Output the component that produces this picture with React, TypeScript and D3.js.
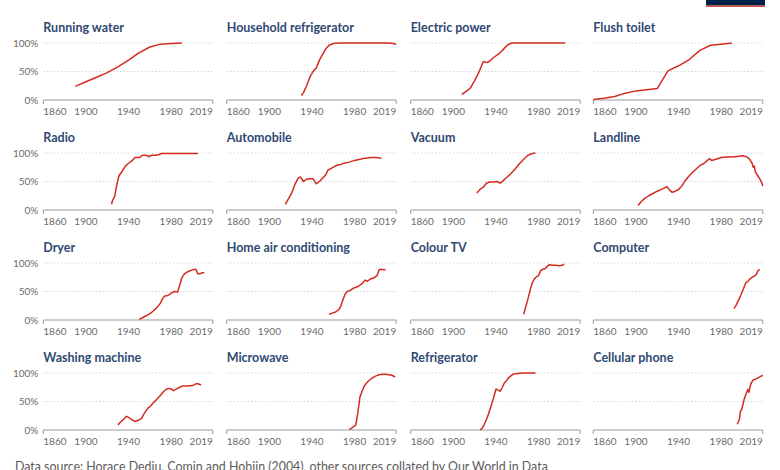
import { useEffect, useRef } from "react";
import * as d3 from "d3";

type Pt = [number, number];

// Share of US households using each technology (%)
const runningWater: Pt[] = [[1890, 24], [1900, 32], [1910, 40], [1920, 48], [1930, 58], [1940, 70], [1950, 83], [1960, 93], [1970, 98], [1980, 99], [1990, 100]];
const householdFridge: Pt[] = [[1930, 8], [1932, 13], [1935, 25], [1938, 40], [1941, 50], [1944, 56], [1947, 70], [1950, 80], [1953, 90], [1956, 96], [1960, 99], [1965, 100], [1980, 100], [2000, 100], [2012, 100], [2016, 99], [2019, 98]];
const electricPower: Pt[] = [[1908, 10], [1912, 15], [1916, 21], [1920, 34], [1924, 49], [1928, 67], [1932, 66], [1934, 68], [1938, 75], [1942, 80], [1945, 85], [1948, 91], [1951, 97], [1955, 100], [1980, 100], [2005, 100]];
const flushToilet: Pt[] = [[1860, 1], [1870, 3], [1880, 6], [1890, 12], [1900, 16], [1910, 18], [1920, 20], [1930, 51], [1940, 60], [1950, 71], [1960, 87], [1970, 96], [1980, 98], [1990, 100]];
const radio: Pt[] = [[1924, 10], [1925, 17], [1927, 24], [1929, 45], [1931, 60], [1934, 68], [1937, 77], [1940, 82], [1943, 86], [1946, 92], [1950, 92], [1953, 96], [1956, 96], [1959, 94], [1962, 96], [1965, 96], [1968, 97], [1971, 99], [1980, 99], [1990, 99], [2005, 99]];
const automobile: Pt[] = [[1915, 10], [1918, 20], [1921, 30], [1924, 45], [1927, 56], [1929, 58], [1932, 50], [1935, 54], [1938, 55], [1941, 55], [1944, 46], [1947, 50], [1950, 56], [1953, 62], [1955, 70], [1958, 73], [1961, 76], [1964, 79], [1967, 80], [1970, 82], [1975, 84], [1980, 87], [1985, 89], [1990, 91], [1995, 92], [2000, 92], [2005, 91]];
const vacuum: Pt[] = [[1922, 30], [1925, 36], [1928, 40], [1931, 47], [1934, 49], [1938, 49], [1941, 50], [1944, 47], [1947, 52], [1950, 57], [1954, 64], [1958, 72], [1962, 81], [1966, 89], [1970, 96], [1974, 99], [1977, 100]];
const landline: Pt[] = [[1902, 8], [1905, 15], [1908, 20], [1912, 25], [1916, 29], [1920, 33], [1925, 37], [1929, 41], [1932, 34], [1934, 31], [1937, 33], [1940, 36], [1943, 42], [1946, 51], [1949, 58], [1952, 64], [1956, 71], [1960, 78], [1964, 82], [1967, 87], [1969, 90], [1971, 87], [1975, 89], [1980, 92], [1985, 93], [1990, 93], [1995, 94], [2000, 95], [2003, 94], [2005, 92], [2007, 88], [2009, 82], [2010, 75], [2011, 77], [2012, 67], [2014, 61], [2016, 55], [2018, 48], [2019, 42]];
const dryer: Pt[] = [[1950, 1], [1953, 4], [1956, 7], [1959, 10], [1962, 14], [1965, 19], [1968, 25], [1970, 30], [1972, 38], [1974, 42], [1977, 43], [1980, 47], [1983, 50], [1986, 49], [1988, 61], [1990, 74], [1992, 80], [1994, 83], [1997, 86], [2000, 88], [2003, 89], [2005, 81], [2007, 81], [2009, 83], [2011, 83]];
const airConditioning: Pt[] = [[1956, 10], [1959, 12], [1962, 14], [1965, 18], [1967, 24], [1969, 35], [1971, 45], [1973, 50], [1976, 52], [1979, 56], [1981, 57], [1984, 60], [1987, 64], [1990, 70], [1992, 68], [1995, 72], [1998, 74], [2001, 78], [2003, 88], [2005, 89], [2007, 88], [2009, 88]];
const colourTV: Pt[] = [[1966, 10], [1968, 24], [1970, 37], [1972, 52], [1974, 65], [1976, 72], [1978, 76], [1980, 78], [1982, 87], [1984, 89], [1986, 90], [1988, 94], [1990, 97], [1993, 96], [1996, 96], [1999, 95], [2002, 96], [2004, 98]];
const computer: Pt[] = [[1992, 20], [1994, 26], [1996, 34], [1998, 42], [2000, 51], [2002, 60], [2003, 65], [2005, 68], [2007, 72], [2009, 75], [2011, 77], [2013, 80], [2014, 85], [2016, 89]];
const washingMachine: Pt[] = [[1930, 9], [1933, 15], [1936, 20], [1938, 24], [1940, 22], [1943, 18], [1946, 15], [1949, 17], [1952, 20], [1955, 30], [1958, 38], [1961, 43], [1964, 49], [1967, 55], [1970, 61], [1973, 68], [1976, 72], [1978, 73], [1980, 72], [1982, 69], [1985, 72], [1988, 75], [1990, 77], [1995, 77], [2000, 78], [2003, 81], [2005, 81], [2008, 79]];
const microwave: Pt[] = [[1975, 1], [1977, 3], [1979, 6], [1981, 8], [1983, 30], [1985, 58], [1987, 68], [1989, 77], [1991, 82], [1993, 86], [1995, 89], [1997, 92], [2000, 95], [2003, 97], [2006, 98], [2009, 98], [2012, 97], [2015, 96], [2018, 93]];
const refrigerator: Pt[] = [[1925, 0], [1927, 3], [1929, 10], [1931, 18], [1933, 28], [1935, 40], [1937, 52], [1939, 65], [1940, 72], [1942, 70], [1944, 68], [1946, 75], [1948, 83], [1950, 87], [1952, 92], [1954, 95], [1956, 98], [1960, 99], [1965, 100], [1970, 100], [1977, 100]];
const cellularPhone: Pt[] = [[1995, 10], [1996, 14], [1997, 18], [1998, 33], [1999, 35], [2000, 42], [2001, 50], [2002, 57], [2003, 62], [2004, 67], [2005, 71], [2006, 66], [2007, 76], [2008, 82], [2009, 85], [2010, 88], [2011, 88], [2013, 90], [2015, 92], [2017, 94], [2019, 96]];

const titles = [
  "Running water", "Household refrigerator", "Electric power", "Flush toilet",
  "Radio", "Automobile", "Vacuum", "Landline",
  "Dryer", "Home air conditioning", "Colour TV", "Computer",
  "Washing machine", "Microwave", "Refrigerator", "Cellular phone",
];
const series = [
  runningWater, householdFridge, electricPower, flushToilet,
  radio, automobile, vacuum, landline,
  dryer, airConditioning, colourTV, computer,
  washingMachine, microwave, refrigerator, cellularPhone,
];
const yearTicks = [1860, 1900, 1940, 1980, 2019];
const pctTicks = [0, 50, 100];
const source = "Data source: Horace Dediu, Comin and Hobijn (2004), other sources collated by Our World in Data";

function App() {
  const svgRef = useRef<SVGSVGElement>(null);

  useEffect(() => {
    if (!svgRef.current) return;
    const svg = d3.select(svgRef.current);
    svg.selectAll("*").remove();

    const width = 780;
    const height = 470;
    svg.attr("width", width).attr("height", height);

    const font = "Lato, 'Noto Sans', sans-serif";
    const colLeft = [43.3, 226.7, 410.7, 593.3];
    const plotW = 169.5;
    const plotH = 57;
    const rowTop = 43;
    const rowStep = 110;

    // logo box, cut off at the top
    svg.append("rect").attr("x", 706).attr("y", 0).attr("width", 59).attr("height", 5.5).attr("fill", "#002147");
    svg.append("rect").attr("x", 706).attr("y", 5.5).attr("width", 59).attr("height", 1.3).attr("fill", "#ce261e");

    series.forEach((data, i) => {
      const col = i % 4;
      const row = Math.floor(i / 4);
      const g = svg.append("g").attr("transform", `translate(${colLeft[col]},${rowTop + row * rowStep})`);

      const x = d3.scaleLinear().domain([1860, 2019]).range([0, plotW]);
      const y = d3.scaleLinear().domain([0, 100]).range([plotH, 0]);

      // title
      g.append("text")
        .attr("x", 0)
        .attr("y", -11)
        .attr("font-family", font)
        .attr("font-weight", 700)
        .attr("font-size", 12.5)
        .attr("fill", "#2f4a73")
        .text(titles[i]);

      // dotted gridlines
      g.selectAll(".grid")
        .data(pctTicks.filter((d) => d > 0))
        .join("line")
        .attr("x1", 0)
        .attr("x2", plotW)
        .attr("y1", (d) => y(d))
        .attr("y2", (d) => y(d))
        .attr("stroke", "#d6d6d6")
        .attr("stroke-dasharray", "1.5,2");

      // y labels only in first column
      if (col === 0) {
        g.selectAll(".ylab")
          .data(pctTicks)
          .join("text")
          .attr("x", -5)
          .attr("y", (d) => y(d) + 3.5)
          .attr("text-anchor", "end")
          .attr("font-family", font)
          .attr("font-size", 10)
          .attr("fill", "#6b6b6b")
          .text((d) => `${d}%`);
      }

      // x axis: baseline with end ticks
      g.append("line").attr("x1", 0).attr("x2", plotW).attr("y1", plotH).attr("y2", plotH).attr("stroke", "#9a9a9a");
      g.selectAll(".tick")
        .data([1860, 2019])
        .join("line")
        .attr("x1", (d) => x(d))
        .attr("x2", (d) => x(d))
        .attr("y1", plotH)
        .attr("y2", plotH + 4)
        .attr("stroke", "#9a9a9a");

      g.selectAll(".xlab")
        .data(yearTicks)
        .join("text")
        .attr("x", (d) => x(d))
        .attr("y", plotH + 14.5)
        .attr("text-anchor", (d) => (d === 1860 ? "start" : d === 2019 ? "end" : "middle"))
        .attr("font-family", font)
        .attr("font-size", 10)
        .attr("fill", "#6b6b6b")
        .text((d) => d);

      const line = d3
        .line<Pt>()
        .x((d) => x(d[0]))
        .y((d) => y(d[1]));

      g.append("path")
        .datum(data)
        .attr("d", line)
        .attr("fill", "none")
        .attr("stroke", "#d42b21")
        .attr("stroke-width", 1.5)
        .attr("stroke-linejoin", "round");
    });

    svg.append("text")
      .attr("x", 15)
      .attr("y", 471)
      .attr("font-family", font)
      .attr("font-size", 12.4)
      .attr("fill", "#5b5b5b")
      .text(source);
  }, []);

  return <svg ref={svgRef} style={{ position: "absolute", left: 0, top: 0, background: "#fff" }}></svg>;
}

export default App;
